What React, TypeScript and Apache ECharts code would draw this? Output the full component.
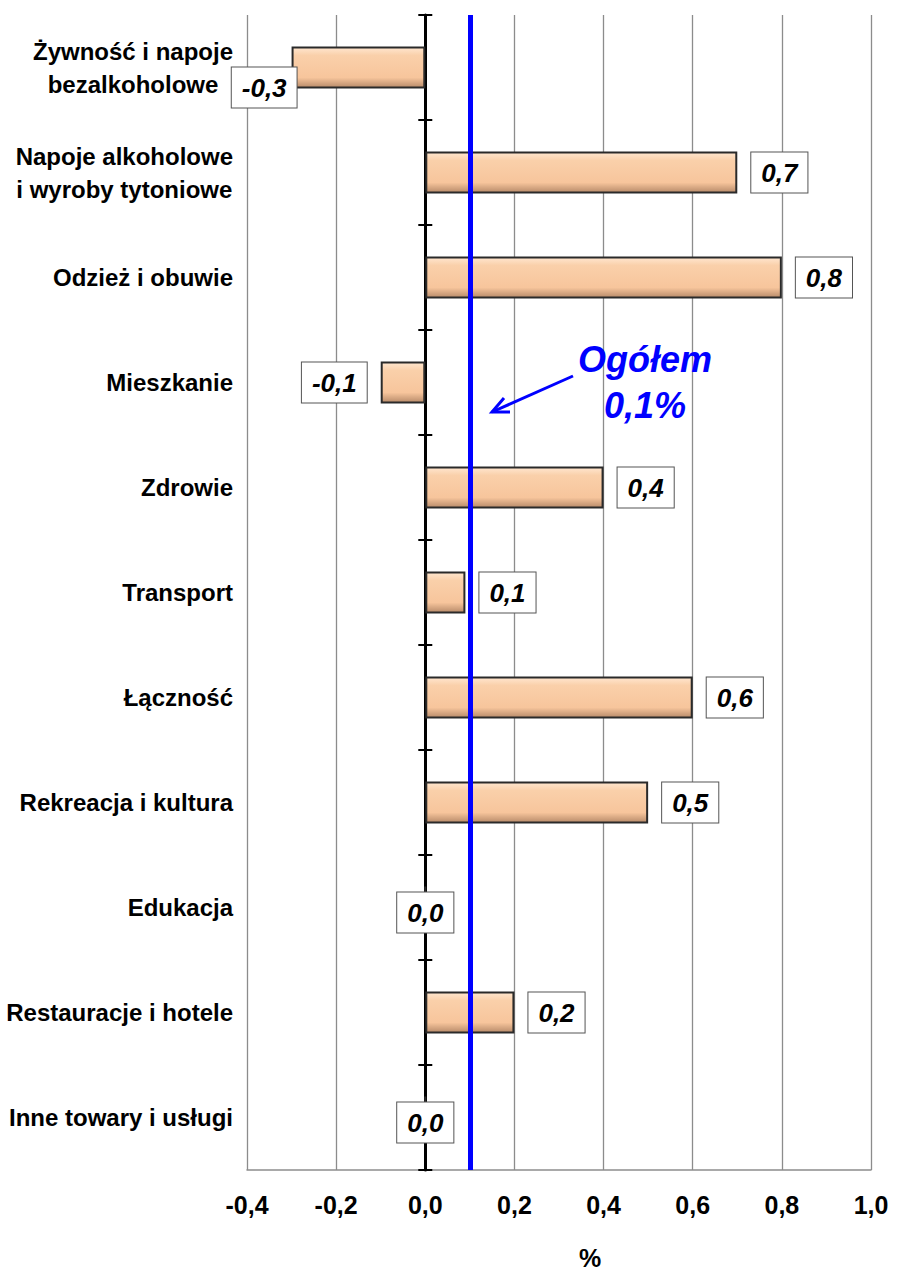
import React, { useEffect, useRef } from "react";
import * as echarts from "echarts";

const categories: string[] = [
  "Żywność i napoje\nbezalkoholowe",
  "Napoje alkoholowe\ni wyroby tytoniowe",
  "Odzież i obuwie",
  "Mieszkanie",
  "Zdrowie",
  "Transport",
  "Łączność",
  "Rekreacja i kultura",
  "Edukacja",
  "Restauracje i hotele",
  "Inne towary i usługi",
];

const values: number[] = [-0.3, 0.7, 0.8, -0.1, 0.4, 0.09, 0.6, 0.5, 0.0, 0.2, 0.0];

const totalValue = 0.1;
const totalLabel = "Ogółem\n0,1%";
const axisUnit = "%";

const xMin = -0.4;
const xMax = 1.0;
const xStep = 0.2;

const FONT = "'Liberation Sans', Arial, sans-serif";

const fmt = (v: number) => v.toFixed(1).replace(".", ",");

export default function App() {
  const ref = useRef<HTMLDivElement>(null);

  useEffect(() => {
    document.body.style.margin = "0";
    if (!ref.current) return;
    const chart = echarts.init(ref.current, undefined, { renderer: "svg" });

    const W = 897;
    const gridLeft = 247;
    const gridRight = 26;
    const plotW = W - gridLeft - gridRight;
    // distance from the right edge of the plot to x = 0
    const zeroFromRight = (plotW * (xMax - 0)) / (xMax - xMin);

    const barColor = new echarts.graphic.LinearGradient(0, 0, 0, 1, [
      { offset: 0, color: "#FFE6CF" },
      { offset: 0.2, color: "#FAD0AA" },
      { offset: 0.75, color: "#F7C59C" },
      { offset: 1, color: "#B88B6A" },
    ]);

    const data = values.map((v, i) => {
      let label: any;
      if (v === 0) {
        label = { position: "inside", offset: [0, 5] };
      } else if (v < 0) {
        label = { position: "left", distance: i === 0 ? -5 : 14, offset: i === 0 ? [0, 20] : [0, 0] };
      } else {
        label = { position: "right", distance: 14 };
      }
      return { value: v, label };
    });

    const richLabel = {
      fontFamily: FONT,
      fontSize: 24,
      fontWeight: "bold",
      color: "#000",
      formatter: (s: string) =>
        s
          .split("\n")
          .map((l) => `{c|${l}}`)
          .join("\n"),
      rich: {
        c: {
          align: "center",
          fontFamily: FONT,
          fontSize: 24,
          fontWeight: "bold",
          color: "#000",
          lineHeight: 33,
        },
      },
    };

    chart.setOption({
      animation: false,
      backgroundColor: "#fff",
      grid: { left: gridLeft, right: gridRight, top: 15, bottom: 103 },
      xAxis: {
        type: "value",
        min: xMin,
        max: xMax,
        interval: xStep,
        axisLine: { show: true, onZero: false, lineStyle: { color: "#8c8c8c", width: 1.5 } },
        axisTick: { show: false },
        splitLine: { show: true, lineStyle: { color: "#8c8c8c", width: 1.3 } },
        axisLabel: {
          formatter: (v: number) => fmt(v),
          fontFamily: FONT,
          fontSize: 25,
          fontWeight: "bold",
          color: "#000",
          margin: 22,
        },
      },
      yAxis: [
        {
          type: "category",
          data: categories,
          inverse: true,
          position: "left",
          axisLine: { show: false, onZero: false },
          axisTick: { show: false },
          axisLabel: { ...richLabel, margin: 14 },
        },
        {
          type: "category",
          data: categories,
          inverse: true,
          position: "left",
          axisLine: { show: true, onZero: true, lineStyle: { color: "#000", width: 3 } },
          axisTick: { show: true, length: 7, lineStyle: { color: "#000", width: 2 } },
          axisLabel: { show: false },
          z: 1,
        },
        {
          type: "category",
          data: categories,
          inverse: true,
          position: "right",
          offset: -zeroFromRight,
          axisLine: { show: false, onZero: false },
          axisTick: { show: true, length: 7, lineStyle: { color: "#000", width: 2 } },
          axisLabel: { show: false },
          z: 1,
        },
      ],
      series: [
        {
          type: "bar",
          yAxisIndex: 0,
          data,
          barWidth: 42,
          itemStyle: {
            color: barColor,
            borderColor: "#2a2a2a",
            borderWidth: 2,
          },
          label: {
            show: true,
            formatter: (p: any) => fmt(p.value),
            fontFamily: FONT,
            fontSize: 26,
            fontWeight: "bold",
            fontStyle: "italic",
            color: "#000",
            backgroundColor: "#fff",
            borderColor: "#555",
            borderWidth: 1,
            padding: [8, 10, 6, 10],
          },
          markLine: {
            silent: true,
            symbol: "none",
            label: { show: false },
            lineStyle: { color: "#0000FF", width: 5, type: "solid" },
            data: [{ xAxis: totalValue }],
          },
          z: 3,
        },
      ],
      graphic: [
        {
          type: "text",
          x: 645,
          y: 336,
          z: 10,
          style: {
            text: totalLabel,
            fill: "#0000FF",
            font: `italic bold 36px ${FONT}`,
            textAlign: "center",
            lineHeight: 46,
          },
        },
        {
          type: "line",
          z: 10,
          shape: { x1: 573, y1: 376, x2: 492, y2: 412 },
          style: { stroke: "#0000FF", lineWidth: 3 },
        },
        {
          type: "polyline",
          z: 10,
          shape: { points: [[510, 412], [492, 412], [504, 398]] },
          style: { stroke: "#0000FF", lineWidth: 3, fill: "none" },
        },
        {
          type: "text",
          x: 590,
          y: 1258,
          z: 10,
          style: {
            text: axisUnit,
            fill: "#000",
            font: `bold 25px ${FONT}`,
            textAlign: "center",
            textVerticalAlign: "middle",
          },
        },
      ],
    });

    return () => chart.dispose();
  }, []);

  return <div ref={ref} style={{ width: 897, height: 1273 }} />;
}
